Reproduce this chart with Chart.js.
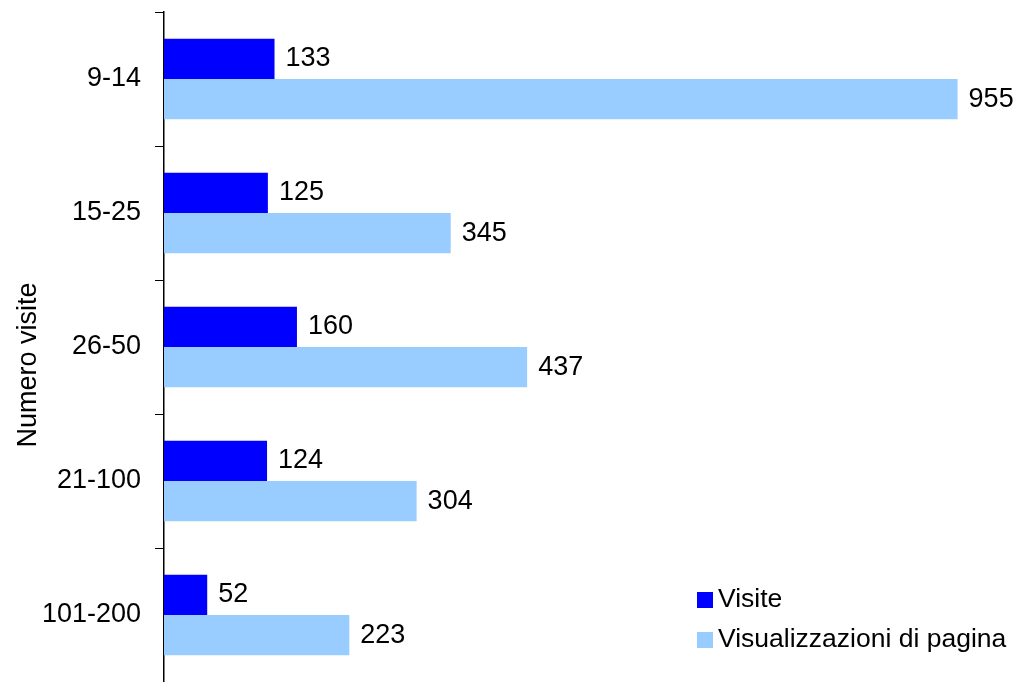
<!DOCTYPE html>
<html>
<head>
<meta charset="utf-8">
<script src="https://cdn.jsdelivr.net/npm/chart.js@4/dist/chart.umd.min.js"></script>
<style>
    html, body { margin: 0; padding: 0; background: #fff; }
    #wrap { width: 1017px; height: 682px; position: relative; }
</style>
</head>
<body>
<div id="wrap"><canvas id="visitsChart"></canvas></div>
<script>
// data
const categories = ['9-14', '15-25', '26-50', '21-100', '101-200'];
const visite = [133, 125, 160, 124, 52];
const visualizzazioni = [955, 345, 437, 304, 223];
const seriesNames = ['Visite', 'Visualizzazioni di pagina'];
const axisTitle = 'Numero visite';

const FONT = '"Liberation Sans", Arial, sans-serif';

// value labels at the end of every bar
const valueLabels = {
    id: 'valueLabels',
    afterDatasetsDraw(chart) {
        const ctx = chart.ctx;
        ctx.save();
        ctx.font = '27px ' + FONT;
        ctx.fillStyle = '#000';
        ctx.textAlign = 'left';
        ctx.textBaseline = 'middle';
        chart.data.datasets.forEach((ds, di) => {
            const meta = chart.getDatasetMeta(di);
            meta.data.forEach((bar, i) => {
                ctx.fillText(String(ds.data[i]), bar.x + 11, bar.y);
            });
        });
        ctx.restore();
    }
};

// legend in the lower right corner + rotated axis title (sits a bit below centre)
const extras = {
    id: 'extras',
    afterDraw(chart) {
        const ctx = chart.ctx;
        ctx.save();
        ctx.font = '26.5px ' + FONT;
        ctx.textAlign = 'left';
        ctx.textBaseline = 'middle';
        chart.data.datasets.forEach((ds, i) => {
            const y = 600 + i * 40;
            ctx.fillStyle = ds.backgroundColor;
            ctx.fillRect(697, y - 8, 16, 16);
            ctx.fillStyle = '#000';
            ctx.fillText(ds.label, 718, y);
        });

        ctx.translate(29, 365);
        ctx.rotate(-Math.PI / 2);
        ctx.font = '27px ' + FONT;
        ctx.textAlign = 'center';
        ctx.fillText(axisTitle, 0, 0);
        ctx.restore();
    }
};

new Chart(document.getElementById('visitsChart'), {
    type: 'bar',
    data: {
        labels: categories,
        datasets: [{
            label: seriesNames[0],
            data: visite,
            backgroundColor: '#0000FF',
            categoryPercentage: 0.6,
            barPercentage: 1.0
        }, {
            label: seriesNames[1],
            data: visualizzazioni,
            backgroundColor: '#99CCFF',
            categoryPercentage: 0.6,
            barPercentage: 1.0
        }]
    },
    options: {
        indexAxis: 'y',
        responsive: true,
        maintainAspectRatio: false,
        animation: false,
        layout: { padding: { left: 0, right: 22, top: 12, bottom: 0 } },
        plugins: {
            legend: { display: false },
            tooltip: { enabled: false }
        },
        scales: {
            x: {
                display: false,
                min: 0,
                max: 1000
            },
            y: {
                afterFit(scale) {
                    scale.width = 164;
                    // no extra room for the first/last label
                    scale.paddingTop = 0;
                    scale.paddingBottom = 0;
                },
                border: { display: true, color: '#000', width: 1.5 },
                grid: {
                    offset: true,
                    drawOnChartArea: false,
                    drawTicks: true,
                    tickLength: 9,
                    color: '#000'
                },
                ticks: {
                    color: '#000',
                    padding: 14,
                    font: { family: FONT, size: 27 }
                }
            }
        }
    },
    plugins: [valueLabels, extras]
});
</script>
</body>
</html>
